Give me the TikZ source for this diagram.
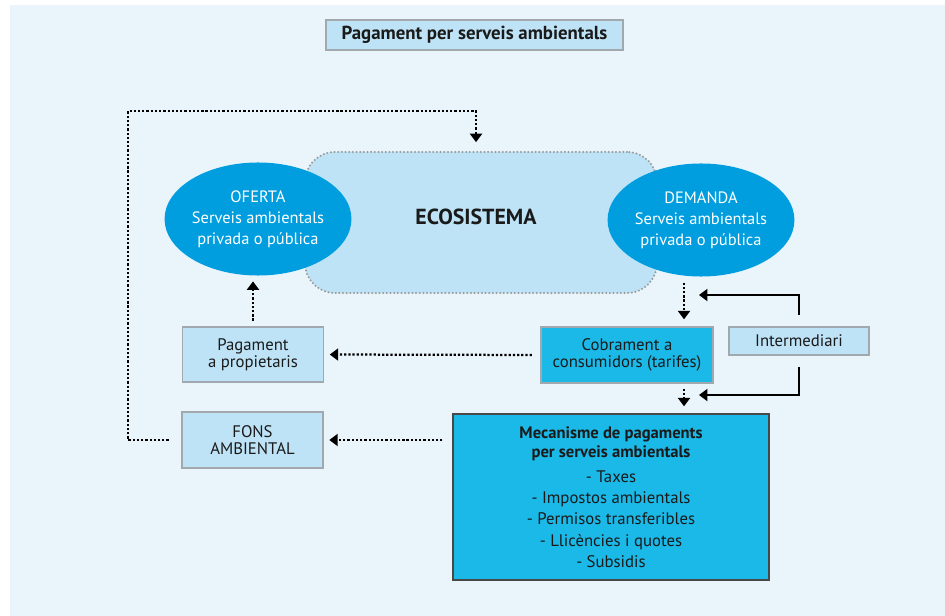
\documentclass[tikz,border=0pt]{standalone}
\usepackage{fontspec}
\setmainfont{PT Sans}
\usetikzlibrary{arrows.meta,shapes.geometric}
\definecolor{pagebg}{HTML}{EAF4FB}
\definecolor{paleblue}{HTML}{BEE3F6}
\definecolor{deepblue}{HTML}{009EDE}
\definecolor{cyanblue}{HTML}{1BB9E8}
\definecolor{edgegray}{HTML}{A2A9AE}
\definecolor{dotgray}{HTML}{9A9A9A}
\definecolor{inkdark}{HTML}{1A1A1A}
\newcommand{\headline}[1]{{\fontsize{11.8}{13.5}\selectfont\bfseries #1}}
\tikzset{>={Triangle[width=8.5pt,length=6pt]}}
\tikzset{
  paper/.style={inner sep=0pt, align=center, text=inkdark},
  palebox/.style={paper, draw=edgegray, line width=0.9pt, fill=paleblue},
  cyanbox/.style={paper, draw=edgegray, line width=0.9pt, fill=cyanblue},
  boxtext/.style={font=\fontsize{11.9}{12}\selectfont},
  bubble/.style={paper, ellipse, fill=deepblue, text=white,
    minimum width=4.55cm, minimum height=2.825cm,
    font=\fontsize{11.7}{15}\selectfont},
  dotflow/.style={line width=1.6pt, dash pattern=on 1.6pt off 1.4pt, ->},
  linkflow/.style={line width=1.5pt, ->}
}

\begin{document}
\begin{tikzpicture}[x=0.025cm,y=-0.025cm]
  \useasboundingbox (0,0) rectangle (945,616);
  \fill[white] (0,0) rectangle (945,616);
  \fill[pagebg] (10,5) rectangle (945,616);

  \node[palebox, minimum width=7.425cm, minimum height=0.75cm,
    font=\fontsize{13.4}{15}\selectfont\bfseries] (title) at (474.5,35)
    {Pagament per serveis ambientals};

  \node[paper, fill=paleblue, draw=dotgray, line width=1.6pt, line cap=round,
    dash pattern=on 0pt off 2.6pt, rounded corners=0.75cm,
    minimum width=8.8cm, minimum height=3.525cm] (eco) at (481,222.5) {};
  \node[paper, font=\fontsize{15.5}{17}\selectfont\bfseries] (ecolabel) at (476,217) {ECOSISTEMA};

  \node[bubble] (oferta) at (258,219)
    {OFERTA\\Serveis ambientals\\privada o pública};
  \node[bubble] (demanda) at (701,220)
    {DEMANDA\\Serveis ambientals\\privada o pública};

  \node[palebox, boxtext, minimum width=3.525cm, minimum height=1.375cm] (propietaris) at (253,354.5)
    {Pagament\\a propietaris};
  \node[palebox, boxtext, minimum width=3.525cm, minimum height=1.4cm] (fons) at (252.5,440)
    {FONS\\AMBIENTAL};
  \node[cyanbox, boxtext, minimum width=4.3cm, minimum height=1.4cm] (cobrament) at (627,355)
    {Cobrament a\\consumidors (tarifes)};
  \node[palebox, boxtext, minimum width=3.5cm, minimum height=0.7cm] (intermediari) at (799,341)
    {Intermediari};
  \node[cyanbox, draw=inkdark!80, minimum width=7.9cm, minimum height=4.15cm,
    font=\fontsize{11.9}{15}\selectfont] (mecanisme) at (611,497)
    {\headline{Mecanisme de pagaments}\\[-1.5pt]
    \headline{per serveis ambientals}\\[3pt]
    - Taxes\\- Impostos ambientals\\- Permisos transferibles\\
    - Llicències i quotes\\- Subsidis};

  \coordinate (loopcorner) at (128,111);
  \coordinate (ecoin) at (476,152);
  \coordinate (upperin) at (699,295);
  \coordinate (lowerin) at (699,395);
  \coordinate (demout) at (684,277);
  \coordinate (cobout) at (684,383);

  \draw[dotflow, shorten <=9pt, shorten >=7pt] (fons.west) -| (loopcorner) -| (ecoin);
  \draw[dotflow, shorten <=4pt, shorten >=4pt] (propietaris.north) -- (propietaris.north |- oferta.south);
  \draw[dotflow, shorten <=4pt, shorten >=5pt] (demout) -- (demout |- cobrament.north);
  \draw[dotflow, shorten <=4pt, shorten >=5pt] (cobout) -- (cobout |- mecanisme.north);
  \draw[dotflow, shorten <=6pt, shorten >=4pt] (cobrament.west) -- (propietaris.east);
  \draw[dotflow, shorten <=7pt, shorten >=4pt] (mecanisme.west |- fons.east) -- (fons.east);
  \draw[linkflow, shorten <=8pt] (intermediari.north) |- (upperin);
  \draw[linkflow, shorten <=8pt] (intermediari.south) |- (lowerin);
\end{tikzpicture}
\end{document}
